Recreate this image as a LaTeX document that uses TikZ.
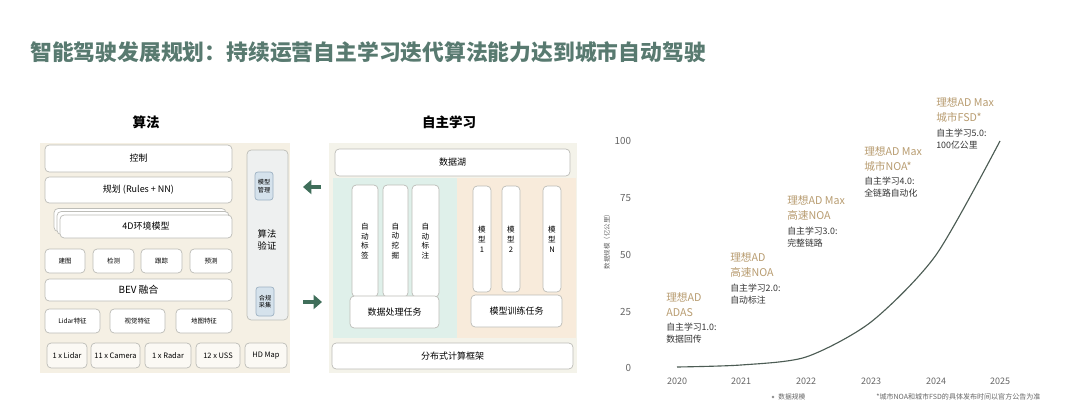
\documentclass[tikz,border=0pt]{standalone}
\usepackage{fontspec}
\setmainfont{Noto Sans CJK SC}
\usetikzlibrary{arrows.meta}
\definecolor{titlegreen}{HTML}{587A70}
\definecolor{panelbeige}{HTML}{F5F0E4}
\definecolor{panellight}{HTML}{F4F3EA}
\definecolor{cardline}{HTML}{BDBDB8}
\definecolor{arrowgreen}{HTML}{3F6E5A}
\definecolor{tealzone}{HTML}{DFF0EA}
\definecolor{peachzone}{HTML}{F8EBDB}
\definecolor{goldtext}{HTML}{B89C70}
\definecolor{curvegray}{HTML}{4C5C54}
\definecolor{chipblue}{HTML}{D5E2EC}
\definecolor{chipline}{HTML}{9DB1C2}
\definecolor{railgray}{HTML}{EEF0F0}
\newcommand{\titlefont}{\fontsize{15.5}{18}\selectfont}
\newcommand{\headfont}{\fontsize{9.6}{11}\selectfont\bfseries}
\newcommand{\boxfont}{\fontsize{6.4}{7.6}\selectfont}
\newcommand{\smallfont}{\fontsize{5.3}{6.4}\selectfont}
\newcommand{\tinyfont}{\fontsize{4.6}{5.6}\selectfont}
\newcommand{\tickfont}{\fontsize{7}{8}\selectfont}
\tikzset{
  wh/.style 2 args={minimum width=#1*0.025cm, minimum height=#2*0.025cm},
  card/.style={draw=cardline, fill=white, rounded corners=3pt, line width=0.5pt,
    inner sep=0pt, align=center, font=\boxfont},
  minicard/.style={card, font=\tinyfont},
  sensor/.style={card, fill=white!60!panelbeige, font=\smallfont},
  chip/.style={draw=chipline, fill=chipblue, rounded corners=2pt, line width=0.5pt,
    inner sep=0pt, align=center, font=\fontsize{4.4}{5.4}\selectfont},
  vcard/.style={card, font=\fontsize{5.4}{7}\selectfont},
  heading/.style={font=\headfont},
  bigarrow/.style={-{Triangle[length=6pt, width=10pt]}, line width=3pt, draw=arrowgreen},
  tick/.style={font=\tickfont, text=black!60},
  product/.style={font=\fontsize{7.6}{10.6}\selectfont, text=goldtext, align=left,
    anchor=north west, inner sep=0pt},
  stage/.style={font=\fontsize{6.3}{8.5}\selectfont, text=black!80, align=left,
    anchor=north west, inner sep=0pt}
}
\begin{document}
\begin{tikzpicture}[x=0.025cm, y=-0.025cm]
  \useasboundingbox (0,0) rectangle (1080,414);
  \fill[white] (0,0) rectangle (1080,414);
  \node[anchor=west, inner sep=0pt, text=titlegreen, font=\titlefont\bfseries] (title) at (30,52)
    {智能驾驶发展规划：持续运营自主学习迭代算法能力达到城市自动驾驶};

  % algorithm stack
  \node[heading] (algohead) at (146,122) {算法};
  \fill[panelbeige] (40,143) rectangle (290,373);
  \node[card, wh={41}{170}, fill=railgray] (verify) at (267.5,235) {};
  \node[font=\fontsize{6.6}{8.4}\selectfont, align=center] (verifytxt) at (267,240) {算法\\验证};
  \node[chip, wh={18}{28}] (mgmt) at (264,186) {模型\\管理};
  \node[chip, wh={18}{29}] (comply) at (265,301.5) {合规\\采集};

  \node[card, wh={187}{27}] (ctrl) at (138.5,158.5) {控制};
  \node[card, wh={187}{26}] (plan) at (138.5,190) {规划 (Rules + NN)};
  \node[card, wh={172}{23}] (envback) at (140,220) {};
  \node[card, wh={172}{23}] (envmid) at (143,223) {};
  \node[card, wh={172}{23}] (env) at (146,226.5) {4D环境模型};
  \node[minicard, wh={40}{24}] (mapping) at (65,261) {建图};
  \node[minicard, wh={41}{24}] (detect) at (113.5,261) {检测};
  \node[minicard, wh={41}{24}] (track) at (161.5,261) {跟踪};
  \node[minicard, wh={42}{24}] (predict) at (211,261) {预测};
  \node[card, wh={187}{22}, font=\fontsize{7}{8}\selectfont] (bev) at (138.5,290) {BEV 融合};
  \node[minicard, wh={55}{24}] (lidarfeat) at (72.5,321) {Lidar特征};
  \node[minicard, wh={55}{24}] (visfeat) at (137.5,321) {视觉特征};
  \node[minicard, wh={56}{24}] (mapfeat) at (204,321) {地图特征};
  \node[sensor, wh={40}{25}] (lidar) at (67,355.5) {1 x Lidar};
  \node[sensor, wh={49}{25}] (camera) at (115.5,355.5) {11 x Camera};
  \node[sensor, wh={46}{25}] (radar) at (168,355.5) {1 x Radar};
  \node[sensor, wh={44}{25}] (uss) at (218,355.5) {12 x USS};
  \node[sensor, wh={42}{25}] (hdmap) at (266,355.5) {HD Map};

  \coordinate (backR) at (321,187);
  \coordinate (backL) at (303,187);
  \coordinate (feedL) at (303,302);
  \coordinate (feedR) at (322,302);
  \draw[bigarrow] (backR) -- (backL);
  \draw[bigarrow] (feedL) -- (feedR);

  % self-learning stack
  \node[heading] (learnhead) at (449,122) {自主学习};
  \fill[panellight] (329,143) rectangle (577,373);
  \fill[tealzone] (333,178) rectangle (457,338);
  \fill[peachzone] (457,178) rectangle (576,338);
  \node[card, wh={235}{27}] (lake) at (452.5,162.5) {数据湖};
  \node[vcard, wh={26}{112}] (autotag) at (365,241) {自\\动\\标\\签};
  \node[vcard, wh={25}{112}] (automine) at (395.5,241) {自\\动\\挖\\掘};
  \node[vcard, wh={27}{112}] (autolabel) at (425.5,241) {自\\动\\标\\注};
  \node[card, wh={89}{32}] (dataproc) at (394.5,312) {数据处理任务};
  \node[vcard, wh={18}{106}] (modelA) at (482,239) {模\\型\\1};
  \node[vcard, wh={18}{106}] (modelB) at (511,239) {模\\型\\2};
  \node[vcard, wh={18}{106}] (modelN) at (552,239) {模\\型\\N};
  \node[card, wh={91}{32}] (train) at (516.5,311) {模型训练任务};
  \node[card, wh={241}{26}] (dist) at (452.5,356) {分布式计算框架};

  % data scale chart
  \foreach \v/\yy in {100/141, 75/198, 50/255, 25/312, 0/368}
    \node[tick, anchor=east] (y\v) at (636,\yy) {\v};
  \foreach \yr/\xx in {2020/677, 2021/741, 2022/806, 2023/871, 2024/936, 2025/1000}
    \node[tick, font=\fontsize{6.4}{7.5}\selectfont] (x\yr) at (\xx,381) {\yr};
  \node[rotate=90, font=\fontsize{4.6}{5.5}\selectfont, text=black!60] (yname) at (607,240)
    {数据规模（亿公里）};
  \coordinate (p20) at (677,367);
  \coordinate (p21) at (741,365);
  \coordinate (p22) at (806,357);
  \coordinate (p23) at (871,322);
  \coordinate (p24) at (936,255);
  \coordinate (p25) at (1000,141);
  \draw[curvegray, line width=0.8pt] plot[smooth, tension=0.45]
    coordinates {(p20) (p21) (p22) (p23) (p24) (p25)};

  \node[product] (adas) at (666,292) {理想AD\\ADAS};
  \node[stage] (stage1) at (666,323) {自主学习1.0:\\数据回传};
  \node[product] (hwnoa) at (730,252) {理想AD\\高速NOA};
  \node[stage] (stage2) at (730,284) {自主学习2.0:\\自动标注};
  \node[product] (maxhw) at (787,195) {理想AD Max\\高速NOA};
  \node[stage] (stage3) at (787,227) {自主学习3.0:\\完整链路};
  \node[product] (maxcity) at (864,146) {理想AD Max\\城市NOA*};
  \node[stage] (stage4) at (864,177) {自主学习4.0:\\全链路自动化};
  \node[product] (maxfsd) at (936,97) {理想AD Max\\城市FSD*};
  \node[stage] (stage5) at (936,129) {自主学习5.0:\\100亿公里};

  \fill[black!45] (773,397) circle (1.3);
  \node[anchor=west, inner sep=0pt, font=\fontsize{4.8}{5.6}\selectfont, text=black!60] (legend)
    at (778,397) {数据规模};
  \node[anchor=west, inner sep=0pt, font=\fontsize{5}{6}\selectfont, text=black!60] (note)
    at (876,397) {*城市NOA和城市FSD的具体发布时间以官方公告为准};
\end{tikzpicture}
\end{document}
